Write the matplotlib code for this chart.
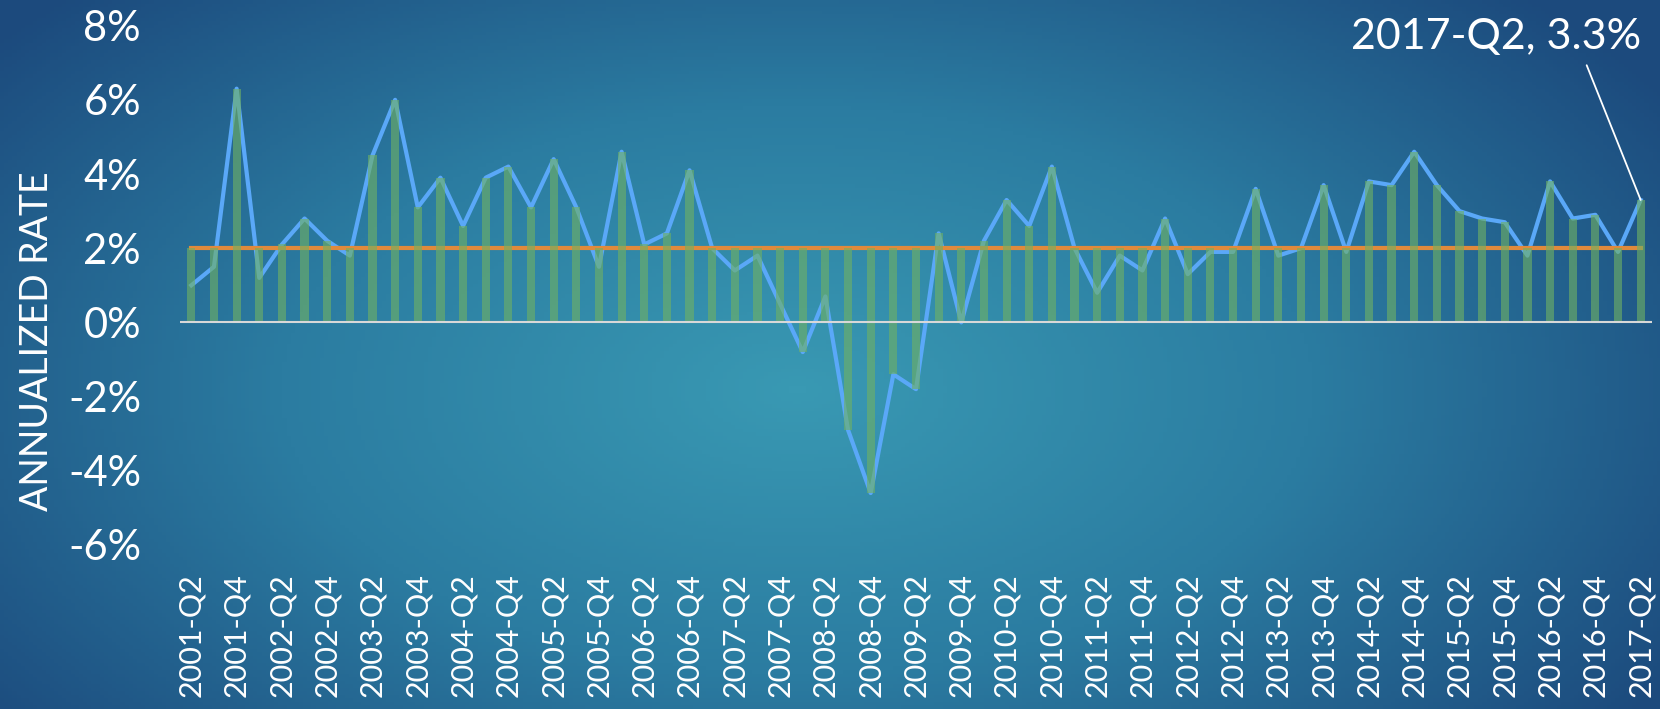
import numpy as np
import matplotlib.pyplot as plt
from matplotlib.colors import LinearSegmentedColormap

# quarterly annualized rate, 2001-Q2 .. 2017-Q2
rate = [1.0, 1.5, 6.3, 1.2, 2.1, 2.8, 2.2, 1.8, 4.5, 6.0,
        3.1, 3.9, 2.6, 3.9, 4.2, 3.1, 4.4, 3.1, 1.5, 4.6,
        2.1, 2.4, 4.1, 2.0, 1.4, 1.8, 0.5, -0.8, 0.7, -2.9,
        -4.6, -1.4, -1.8, 2.4, 0.0, 2.2, 3.3, 2.6, 4.2, 2.0,
        0.8, 1.8, 1.4, 2.8, 1.3, 1.9, 1.9, 3.6, 1.8, 2.0,
        3.7, 1.9, 3.8, 3.7, 4.6, 3.7, 3.0, 2.8, 2.7, 1.8,
        3.8, 2.8, 2.9, 1.9, 3.3]
target = 2.0
quarters = ['%d-Q%d' % (2001 + (i + 1) // 4, (i + 1) % 4 + 1) for i in range(len(rate))]
yticks = [-6, -4, -2, 0, 2, 4, 6, 8]

W, H = 1660, 709
fig = plt.figure(figsize=(W / 100, H / 100), dpi=100)

# фон - радиальный градиент
bg = fig.add_axes([0, 0, 1, 1], zorder=-1)
gx, gy = np.meshgrid(np.linspace(0, 1, 400), np.linspace(0, 1, 200))
d = np.sqrt(((gx - 0.48) / 0.62) ** 2 + ((gy - 0.55) / 0.8) ** 2)
cmap = LinearSegmentedColormap.from_list('bg', ['#3999b3', '#2b7ca1', '#1c4a7d'])
bg.imshow(np.clip(d, 0, 1), cmap=cmap, aspect='auto', extent=[0, 1, 0, 1], origin='upper')
bg.axis('off')

ax = fig.add_axes([180 / W, 1 - 545 / H, (1652 - 180) / W, (545 - 25.6) / H])
ax.set_facecolor('none')
x = np.arange(len(rate))
r = np.array(rate)

ax.plot(x, r, color='#5aa8f8', lw=3.0, zorder=2, solid_joinstyle='round')
ax.plot(x, [target] * len(x), color='#e08a3c', lw=3.0, zorder=2)
bottom = np.minimum(r, 0)
top = np.maximum(r, target)
ax.bar(x, top - bottom, bottom=bottom, width=0.36, color='#6fb064', alpha=0.62, zorder=3)
ax.axhline(0, color='#d8d8d8', lw=1.5, zorder=4)

ax.set_xlim(-0.5, len(rate) - 0.5)
ax.set_ylim(-6, 8)
for s in ax.spines.values():
    s.set_visible(False)

font = 'Lato'
ax.set_yticks(yticks)
ax.set_yticklabels(['%d%%' % v for v in yticks], color='white', fontsize=30, family=font)
ax.set_xticks(x[::2])
ax.set_xticklabels(quarters[::2], rotation=90, color='white', fontsize=22, family=font)
ax.tick_params(axis='y', length=0, pad=28)
ax.tick_params(axis='x', length=0, pad=20)

fig.text(37 / W, 1 - 341 / H, 'ANNUALIZED RATE', rotation=90, ha='center', va='center',
         color='white', fontsize=27, family=font)

ax.annotate('%s, %.1f%%' % (quarters[-1], rate[-1]), xy=(x[-1], rate[-1]),
            xytext=(1641 / W, 1 - 37 / H), textcoords='figure fraction',
            ha='right', va='center', color='white', fontsize=31, family=font,
            arrowprops=dict(arrowstyle='-', color='white', lw=1.3,
                            relpos=(0.8, 0.0), shrinkA=5, shrinkB=0))

fig.savefig('out.png', dpi=100)
